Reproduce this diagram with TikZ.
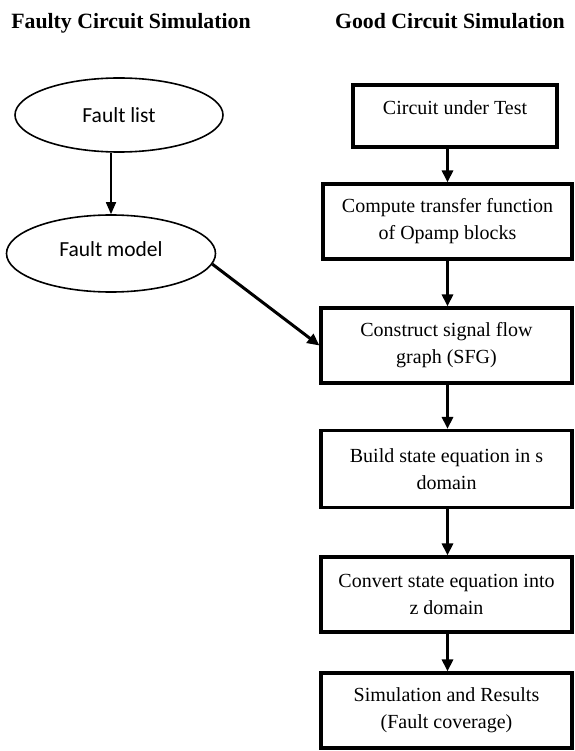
\documentclass[tikz,border=0pt]{standalone}
\usepackage{fontspec}
\setmainfont{Liberation Serif}
\newfontfamily\calib{Carlito}
\usetikzlibrary{arrows.meta,shapes.geometric}

\tikzset{
  heading/.style={font={\fontsize{21.8}{26}\selectfont\bfseries}, anchor=base, inner sep=0pt},
  oval/.style={draw, ellipse, line width=1.6pt, inner sep=0pt,
               font={\calib\fontsize{21.5}{26}\selectfont}},
  stepbox/.style={draw, rectangle, line width=3.2pt, inner sep=0pt, align=center,
               font={\fontsize{20}{27}\selectfont}},
  thinarrow/.style={line width=1.7pt, -{Triangle[width=10pt,length=12pt]}},
  thickarrow/.style={line width=3pt, -{Triangle[width=11pt,length=12pt]}}
}

\begin{document}
\begin{tikzpicture}[x=1pt, y=-1pt]
  \useasboundingbox[fill=white] (0,0) rectangle (574,751);

  % column headings
  \node[heading] (hfault) at (131,29) {Faulty Circuit Simulation};
  \node[heading] (hgood)  at (450,29) {Good Circuit Simulation};

  % faulty circuit side
  \node[oval, minimum width=208pt, minimum height=74pt] (flist) at (119,115) {Fault list};
  \node[oval, minimum width=209pt, minimum height=77pt, text depth=9pt] (fmodel) at (111,253.5) {Fault model};

  % good circuit side
  \node[stepbox, minimum width=204pt, minimum height=62pt, text height=14pt, text depth=17pt]
       (cut) at (455,116) {Circuit under Test};
  \node[stepbox, minimum width=249pt, minimum height=75pt]
       (tf) at (447.5,221.5) {Compute transfer function\\of Opamp blocks};
  \node[stepbox, minimum width=251pt, minimum height=75pt]
       (sfg) at (446.5,345.5) {Construct signal flow\\graph (SFG)};
  \node[stepbox, minimum width=251pt, minimum height=77pt]
       (sdom) at (446.5,469) {Build state equation in s\\domain};
  \node[stepbox, minimum width=251pt, minimum height=75pt]
       (zdom) at (446.5,594.5) {Convert state equation into\\z domain};
  \node[stepbox, minimum width=251pt, minimum height=75pt]
       (res) at (446.5,710.5) {Simulation and Results\\(Fault coverage)};

  % connectors
  \draw[thinarrow] (flist.south -| fmodel.north) -- (fmodel.north);
  \draw[thickarrow] (fmodel.-6) -- (sfg.west);

  \draw[thickarrow] (cut.south -| tf.north) -- (tf.north);
  \draw[thickarrow] (tf.south) -- (sfg.north -| tf.south);
  \draw[thickarrow] (sfg.south -| tf.south) -- (sdom.north -| tf.south);
  \draw[thickarrow] (sdom.south -| tf.south) -- (zdom.north -| tf.south);
  \draw[thickarrow] (zdom.south -| tf.south) -- (res.north -| tf.south);
\end{tikzpicture}
\end{document}
